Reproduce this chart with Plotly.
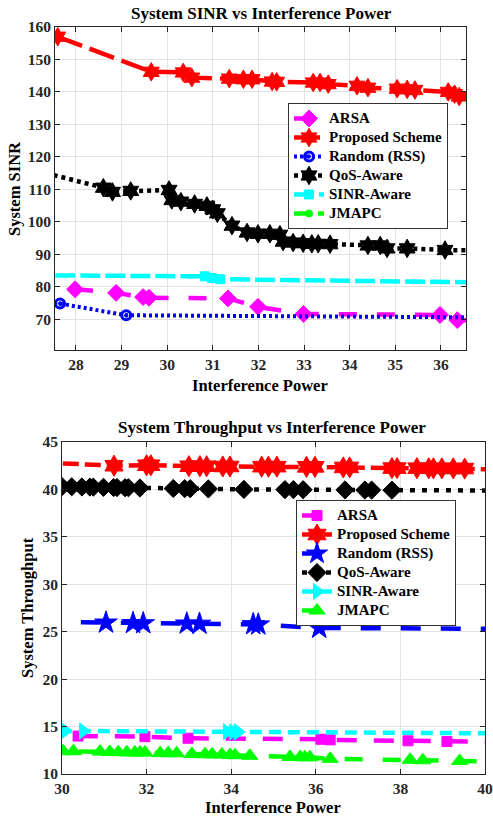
import plotly.graph_objects as go

W, H = 493, 817

# ---------------- Top chart: System SINR ----------------
arsa_x = [27.98, 28.88, 29.47, 29.6, 31.33, 31.99, 32.99, 35.98, 36.36, 36.9]
arsa_y = [79.2, 78.1, 76.8, 76.6, 76.4, 73.8, 71.6, 71.3, 69.7, 69.6]

prop_x = [27.6, 29.65, 30.35, 30.54, 31.36, 31.67, 31.86, 32.3, 32.4, 33.2, 33.35,
          33.53, 34.16, 34.4, 35.04, 35.26, 35.43, 36.16, 36.3, 36.4, 36.9]
prop_y = [157.0, 146.2, 146.0, 144.4, 144.1, 143.9, 143.9, 143.2, 143.1, 142.9, 142.9,
          142.4, 141.9, 141.3, 141.0, 140.8, 140.6, 140.0, 139.3, 138.6, 138.4]

rand_x = [27.65, 29.1, 37.0]
rand_y = [74.8, 71.2, 70.55]

qos_x = [27.0, 28.6, 28.8, 29.2, 30.04, 30.1, 30.3, 30.6, 30.87, 31.0, 31.1, 31.42,
         31.75, 31.99, 32.25, 32.47, 32.54, 32.76, 32.98, 33.17, 33.31, 33.57, 34.4,
         34.67, 34.82, 35.26, 36.09, 37.0]
qos_y = [116.2, 110.5, 109.2, 109.5, 109.8, 106.7, 106.2, 105.5, 104.9, 103.8, 102.6,
         98.8, 96.7, 96.3, 96.3, 96.0, 93.9, 93.6, 93.4, 93.2, 93.2, 93.1, 92.7, 92.7,
         91.8, 91.8, 91.3, 91.1]

sinr_x = [27.0, 30.83, 30.98, 31.16, 37.0]
sinr_y = [83.5, 83.2, 82.7, 82.3, 81.3]

# JMAPC lies below the visible SINR range (only its legend entry shows)
jm_x = [27.6, 30.0, 32.5, 35.0, 36.5]
jm_y = [50.0, 49.5, 49.0, 48.5, 48.0]

# ---------------- Bottom chart: System Throughput ----------------
arsa2_x = [29.5, 30.38, 31.96, 32.98, 36.12, 36.34, 38.18, 39.1, 40.5]
arsa2_y = [14.1, 14.0, 13.94, 13.77, 13.66, 13.6, 13.5, 13.42, 13.4]

prop2_x = [29.5, 31.23, 32.0, 32.1, 33.0, 33.26, 33.42, 33.8, 33.97, 34.72, 34.88, 35.08,
           35.78, 35.98, 36.65, 36.8, 37.8, 37.92, 38.39, 38.67, 38.78, 38.98, 39.25,
           39.52, 40.5]
prop2_y = [42.85, 42.5, 42.55, 42.55, 42.45, 42.45, 42.45, 42.42, 42.42, 42.4, 42.4, 42.4,
           42.38, 42.38, 42.32, 42.32, 42.25, 42.25, 42.24, 42.23, 42.23, 42.22, 42.22,
           42.2, 42.1]

rand2_x = [29.5, 31.04, 31.68, 31.92, 32.95, 33.25, 34.52, 34.64, 36.08, 40.5]
rand2_y = [26.05, 25.95, 25.9, 25.88, 25.85, 25.83, 25.78, 25.75, 25.4, 25.3]

qos2_x = [30.0, 30.23, 30.47, 30.66, 30.74, 30.98, 31.22, 31.3, 31.49, 31.57, 31.84,
          32.63, 32.9, 33.03, 33.46, 34.3, 35.27, 35.47, 35.7, 36.69, 37.16, 37.32,
          37.8, 40.5]
qos2_y = [40.3, 40.28, 40.26, 40.25, 40.24, 40.22, 40.2, 40.2, 40.18, 40.18, 40.15,
          40.1, 40.08, 40.08, 40.05, 40.0, 39.98, 39.98, 39.97, 39.95, 39.93, 39.93,
          39.92, 39.88]

sinr2_x = [29.5, 30.07, 30.5, 33.9, 34.05, 34.16, 40.5]
sinr2_y = [14.56, 14.54, 14.53, 14.45, 14.44, 14.44, 14.28]

jm2_x = [29.5, 30.03, 30.27, 30.9, 31.13, 31.33, 31.53, 31.72, 31.84, 31.96, 32.32,
         32.51, 32.71, 33.07, 33.38, 33.55, 33.78, 33.97, 34.09, 34.44, 35.39, 35.63,
         35.74, 35.86, 36.34, 38.23, 38.53, 39.4, 40.5]
jm2_y = [12.42, 12.4, 12.4, 12.36, 12.33, 12.3, 12.28, 12.27, 12.27, 12.26, 12.2,
         12.2, 12.18, 12.1, 12.08, 12.07, 12.05, 12.0, 11.98, 11.92, 11.8, 11.78,
         11.77, 11.76, 11.6, 11.5, 11.45, 11.38, 11.3]

names = ["ARSA", "Proposed Scheme", "Random (RSS)", "QoS-Aware", "SINR-Aware", "JMAPC"]
FONT = "Liberation Serif"
AX = "#262626"

fig = go.Figure()

def add(x, y, name, color, dash, symbol, size, xa, ya, leg, width=4.5, mline=None):
    fig.add_trace(go.Scatter(
        x=x, y=y, name="<span style='font-size:15px'>" + name + "</span>",
        mode="lines+markers", xaxis=xa, yaxis=ya, legend=leg,
        line=dict(color=color, width=width, dash=dash),
        marker=dict(symbol=symbol, size=size, color=color,
                    line=dict(color=color, width=mline if mline else 1)),
    ))

# top
add(arsa_x, arsa_y, names[0], "#ff00ff", "18px,20px", "diamond", 13, "x", "y", "legend")
add(prop_x, prop_y, names[1], "#ff0000", "26px,8px", "hexagram", 14, "x", "y", "legend")
add(rand_x, rand_y, names[2], "#0000ff", "3px,3px", "circle-open-dot", 9, "x", "y", "legend", width=4, mline=3)
add(qos_x, qos_y, names[3], "#000000", "4px,4px", "hexagram", 14, "x", "y", "legend")
add(sinr_x, sinr_y, names[4], "#00ffff", "20px,5px", "square", 9, "x", "y", "legend")
add(jm_x, jm_y, names[5], "#00ff00", "16px,8px", "circle", 7, "x", "y", "legend")

# bottom
add(arsa2_x, arsa2_y, names[0], "#ff00ff", "20px,17px", "square", 10, "x2", "y2", "legend2")
add(prop2_x, prop2_y, names[1], "#ff0000", "16px,6px", "hexagram", 16, "x2", "y2", "legend2")
add(rand2_x, rand2_y, names[2], "#0000ff", "20px,20px", "star", 17, "x2", "y2", "legend2")
add(qos2_x, qos2_y, names[3], "#000000", "5px,7px", "diamond", 14, "x2", "y2", "legend2")
add(sinr2_x, sinr2_y, names[4], "#00ffff", "12px,7px", "triangle-right", 14, "x2", "y2", "legend2")
add(jm2_x, jm2_y, names[5], "#00ff00", "18px,20px", "triangle-up", 14, "x2", "y2", "legend2")

def px_x(v):
    return v / W

def px_y(v):
    return 1 - v / H

axis_common = dict(
    showline=True, linecolor=AX, linewidth=1, mirror="ticks", ticks="inside",
    ticklen=5, tickcolor=AX, showgrid=True, gridcolor="#e3e3e3", gridwidth=1,
    zeroline=False, automargin=False,
    tickfont=dict(family=FONT, size=15.5, color=AX, weight="bold"),
)

legend_common = dict(xanchor="left", yanchor="top",
                     bgcolor="white", bordercolor="#333333", borderwidth=1,
                     font=dict(family=FONT, size=12, color="#000000", weight="bold"),
                     tracegroupgap=0)

fig.update_layout(
    width=W, height=H, margin=dict(l=0, r=0, t=0, b=0),
    paper_bgcolor="white", plot_bgcolor="white",
    xaxis=dict(axis_common, domain=[px_x(55), px_x(466)], range=[27.54, 36.55],
               tickvals=[28, 29, 30, 31, 32, 33, 34, 35, 36], anchor="y"),
    yaxis=dict(axis_common, domain=[px_y(350), px_y(27)], range=[60.5, 160],
               dtick=10, anchor="x"),
    xaxis2=dict(axis_common, domain=[px_x(62), px_x(485)], range=[30, 40],
                dtick=2, anchor="y2"),
    yaxis2=dict(axis_common, domain=[px_y(774), px_y(442)], range=[10, 45],
                dtick=5, anchor="x2"),
    legend=dict(legend_common, x=px_x(288), y=px_y(103)),
    legend2=dict(legend_common, x=px_x(296), y=px_y(500)),
)

def ann(text, x, y, size, angle=0):
    fig.add_annotation(text=text, x=px_x(x), y=px_y(y), xref="paper", yref="paper",
                       xanchor="center", yanchor="middle", showarrow=False, textangle=angle,
                       font=dict(family=FONT, size=size, color="#000000", weight="bold"))

ann("System SINR vs Interference Power", 261, 14, 17)
ann("System Throughput vs Interference Power", 272, 427, 17)
ann("Interference Power", 260, 385, 16.5)
ann("Interference Power", 273, 807, 16.5)
ann("System SINR", 14, 189, 16.5, -90)
ann("System Throughput", 27, 608, 16.5, -90)

fig.write_html("out.html")
